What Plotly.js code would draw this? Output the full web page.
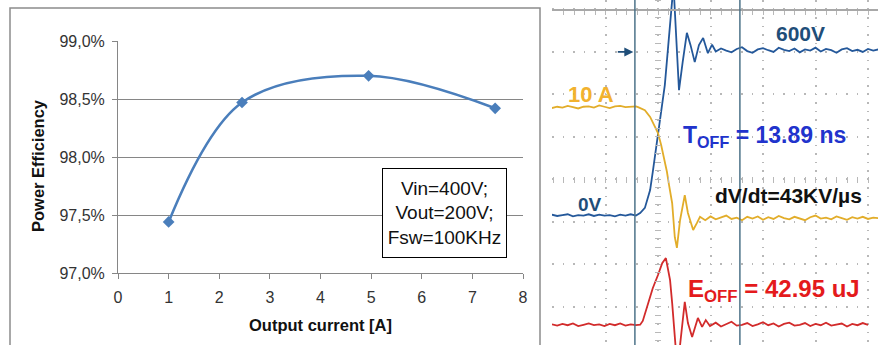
<!DOCTYPE html>
<html><head><meta charset="utf-8">
<script src="https://cdn.plot.ly/plotly-3.0.1.min.js"></script>
<style>html,body{margin:0;padding:0;background:#fff;}#chart{width:878px;height:345px;}</style>
</head><body><div id="chart"></div>
<script>
// ---- Left chart: efficiency vs output current ----
const currentA = [1, 2.45, 4.95, 7.45];
const efficiencyPct = [97.44, 98.47, 98.70, 98.42];
const xTicks = [0, 1, 2, 3, 4, 5, 6, 7, 8];
const yTicks = [97.0, 97.5, 98.0, 98.5, 99.0];
const yTickLabels = ['97,0%', '97,5%', '98,0%', '98,5%', '99,0%'];
const conditionsText = ['Vin=400V;', 'Vout=200V;', 'Fsw=100KHz'];
const xTitle = 'Output current [A]';
const yTitle = 'Power Efficiency';

// ---- Right panel: oscilloscope turn-off waveforms (units: graticule divisions) ----
const blueT = [-2.02,-1.92,-1.82,-1.72,-1.62,-1.52,-1.42,-1.32,-1.22,-1.12,-1.02,-0.92,-0.82,-0.72,-0.62,-0.52,-0.42,
  -0.34,-0.25,-0.15,-0.10,0,0.13,0.27,0.29,0.31,0.40,0.47,0.55,0.62,0.70,0.78,0.86,0.95,1.03,
  1.1,1.2,1.3,1.4,1.5,1.6,1.7,1.8,1.9,2.0,2.1,2.2,2.3,2.4,2.5,2.6,2.7,2.8,2.9,3.0,3.1,3.2,3.3,3.4,3.5,3.6,3.7,3.8,3.9,4.0,4.1,4.2];
const blueV = [-0.84,-0.87,-0.85,-0.83,-0.88,-0.85,-0.86,-0.83,-0.87,-0.84,-0.86,-0.85,-0.88,-0.84,-0.86,-0.83,-0.86,
  -0.80,-0.68,-0.26,0.16,1.08,2.21,4.21,4.70,4.21,2.09,2.75,3.44,3.15,2.75,3.15,3.32,2.96,3.16,
  3.00,3.07,3.02,2.98,3.06,3.10,3.01,2.97,3.05,3.08,3.03,2.99,3.09,3.04,3.01,3.07,2.98,3.05,3.02,3.09,3.00,3.06,3.03,2.97,3.05,3.08,3.01,3.04,2.99,3.06,3.02,3.05];

const yellowT = [-2.02,-1.92,-1.82,-1.72,-1.62,-1.52,-1.42,-1.32,-1.22,-1.12,-1.02,-0.92,-0.82,-0.72,-0.62,-0.52,-0.42,
  -0.38,-0.25,-0.15,-0.06,0,0.06,0.11,0.17,0.21,0.27,0.32,0.36,0.42,0.51,0.57,0.67,0.74,0.80,
  0.9,1.0,1.1,1.2,1.3,1.4,1.5,1.6,1.7,1.8,1.9,2.0,2.1,2.2,2.3,2.4,2.5,2.6,2.7,2.8,2.9,3.0,3.1,3.2,3.3,3.4,3.5,3.6,3.7,3.8,3.9,4.0,4.1,4.2];
const yellowV = [1.67,1.70,1.68,1.72,1.69,1.66,1.70,1.71,1.68,1.73,1.70,1.67,1.71,1.72,1.69,1.70,1.71,
  1.69,1.62,1.46,1.22,1.08,0.80,0.52,0.17,-0.14,-0.57,-1.37,-1.62,-0.97,-0.38,-0.80,-1.20,-1.04,-0.89,
  -0.97,-0.88,-0.95,-0.90,-0.86,-0.94,-0.91,-0.97,-0.89,-0.93,-0.88,-0.96,-0.90,-0.94,-0.87,-0.92,-0.95,-0.89,-0.93,-0.97,-0.90,-0.86,-0.93,-0.91,-0.95,-0.88,-0.92,-0.96,-0.90,-0.93,-0.89,-0.94,-0.91,-0.92];

const redT = [-2.02,-1.92,-1.82,-1.72,-1.62,-1.52,-1.42,-1.32,-1.22,-1.12,-1.02,-0.92,-0.82,-0.72,-0.62,-0.52,-0.42,
  -0.34,-0.29,-0.19,-0.10,0,0.08,0.15,0.23,0.27,0.31,0.34,0.38,0.42,0.51,0.57,0.65,0.71,0.76,0.84,0.91,0.99,
  1.1,1.2,1.3,1.4,1.5,1.6,1.7,1.8,1.9,2.0,2.1,2.2,2.3,2.4,2.5,2.6,2.7,2.8,2.9,3.0,3.1,3.2,3.3,3.4,3.5,3.6,3.7,3.8,3.9,4.0,4.1,4.2];
const redV = [-3.42,-3.45,-3.41,-3.44,-3.40,-3.46,-3.43,-3.40,-3.44,-3.42,-3.46,-3.41,-3.44,-3.40,-3.45,-3.42,-3.44,
  -3.43,-3.34,-2.96,-2.57,-2.26,-1.98,-1.86,-2.38,-2.92,-3.55,-4.02,-4.26,-3.91,-2.89,-3.39,-3.72,-3.48,-3.27,-3.48,-3.32,-3.46,
  -3.38,-3.47,-3.41,-3.36,-3.45,-3.43,-3.39,-3.46,-3.42,-3.37,-3.44,-3.40,-3.47,-3.41,-3.38,-3.45,-3.43,-3.39,-3.46,-3.41,-3.44,-3.38,-3.45,-3.42,-3.40,-3.47,-3.41,-3.44,-3.39,-3.43];

const cursorT = [-0.44, 1.56];
const refMarker = {t: -0.47, v: 2.99};
const scopeLabels = [
  {text: '<b>600V</b>', t: 2.72, v: 3.43, color: '#1f4e79', size: 21},
  {text: '<b>10 A</b>', t: -1.27, v: 2.0, color: '#f2b22e', size: 22},
  {text: '<b>T<sub>OFF</sub> = 13.89 ns</b>', t: 2.03, v: 1.0, color: '#2133cc', size: 23},
  {text: '<b>0V</b>', t: -1.30, v: -0.59, color: '#1f4e79', size: 19},
  {text: '<b>dV/dt=43KV/µs</b>', t: 2.48, v: -0.38, color: '#111111', size: 21},
  {text: '<b>E<sub>OFF</sub> = 42.95 uJ</b>', t: 2.21, v: -2.62, color: '#e41a1c', size: 24}
];

const W = 878, H = 345;
const px = x => x / W, py = y => (H - y) / H;

const scopeX = [(552 - 658) / 52.5, (878 - 658) / 52.5];
const scopeY = [(179 - 345) / 42.5, (179 - 0) / 42.5];
const gridCol = '#b8b8b8';
const leftFont = 'Liberation Sans, Arial, sans-serif';

const traces = [
  {x: currentA, y: efficiencyPct, xaxis: 'x', yaxis: 'y', type: 'scatter', mode: 'lines+markers',
   line: {shape: 'spline', smoothing: 1, color: '#4a7ebb', width: 2.6},
   marker: {symbol: 'diamond', size: 9, color: '#4a7ebb'}},
  {x: blueT, y: blueV, xaxis: 'x2', yaxis: 'y2', type: 'scatter', mode: 'lines', line: {color: '#24589a', width: 1.8}},
  {x: yellowT, y: yellowV, xaxis: 'x2', yaxis: 'y2', type: 'scatter', mode: 'lines', line: {color: '#e2ad2a', width: 1.8}},
  {x: redT, y: redV, xaxis: 'x2', yaxis: 'y2', type: 'scatter', mode: 'lines', line: {color: '#d22b2b', width: 1.8}},
  {x: [], y: [], xaxis: 'x3', yaxis: 'y2', type: 'scatter', mode: 'lines'},
  {x: [], y: [], xaxis: 'x4', yaxis: 'y2', type: 'scatter', mode: 'lines'},
  {x: [], y: [], xaxis: 'x2', yaxis: 'y3', type: 'scatter', mode: 'lines'}
];

const annotations = [
  {xref: 'paper', yref: 'paper', x: px(38), y: py(166), text: '<b>' + yTitle + '</b>', textangle: -90, showarrow: false,
   font: {size: 16.5, color: '#111', family: leftFont}, xanchor: 'center', yanchor: 'middle'},
  {xref: 'paper', yref: 'paper', x: px(320), y: py(325), text: '<b>' + xTitle + '</b>', showarrow: false,
   font: {size: 16.5, color: '#111', family: leftFont}, xanchor: 'center', yanchor: 'middle'},
  {xref: 'paper', yref: 'paper', x: px(444.5), y: py(213), text: conditionsText.join('<br>'), showarrow: false,
   font: {size: 19, color: '#111', family: leftFont}, bgcolor: '#ffffff', bordercolor: '#000000', borderwidth: 1, borderpad: 1,
   width: 121, height: 86, xanchor: 'center', yanchor: 'middle', align: 'center'},
  {xref: 'x2', yref: 'y2', x: refMarker.t, y: refMarker.v, ax: -17, ay: 0, text: '', showarrow: true,
   arrowhead: 2, arrowsize: 1, arrowwidth: 1.8, arrowcolor: '#1f4e79'}
];
scopeLabels.forEach(l => annotations.push({xref: 'x2', yref: 'y2', x: l.t, y: l.v, text: l.text, showarrow: false,
  font: {size: l.size, color: l.color, family: 'Liberation Sans, Arial, sans-serif'}, xanchor: 'center', yanchor: 'middle'}));

const shapes = [
  {type: 'rect', xref: 'paper', yref: 'paper', x0: px(10), x1: px(540), y0: -0.1, y1: py(8),
   line: {color: '#8c8c8c', width: 1.5}, fillcolor: 'rgba(0,0,0,0)', layer: 'below'}
];
cursorT.forEach(t => shapes.push({type: 'line', xref: 'x2', yref: 'paper', x0: t, x1: t, y0: 0, y1: 1,
  line: {color: '#4d7389', width: 1.5}}));

const layout = {
  width: W, height: H, margin: {l: 0, r: 0, t: 0, b: 0},
  paper_bgcolor: '#ffffff', plot_bgcolor: 'rgba(0,0,0,0)', showlegend: false,
  font: {family: leftFont, color: '#222'},
  xaxis: {domain: [px(118), px(523)], range: [0, 8], anchor: 'y', tickvals: xTicks, ticks: 'outside', ticklen: 5,
    tickcolor: '#868686', showline: true, linecolor: '#868686', linewidth: 1, showgrid: false, zeroline: false,
    ticklabelstandoff: 5, tickfont: {size: 16, color: '#333', family: leftFont}, fixedrange: true},
  yaxis: {domain: [py(273), py(41)], range: [97, 99], anchor: 'x', tickvals: yTicks, ticktext: yTickLabels,
    ticks: 'outside', ticklen: 5, tickcolor: '#868686', showline: true, linecolor: '#868686', linewidth: 1,
    ticklabelstandoff: 4, showgrid: true, gridcolor: '#868686', gridwidth: 1, zeroline: false,
    tickfont: {size: 16, color: '#333', family: leftFont}, fixedrange: true},
  xaxis2: {domain: [px(552), 1], range: scopeX, anchor: 'y2', dtick: 1, tick0: 0, showgrid: true, gridcolor: gridCol,
    gridwidth: 2, griddash: '1.5px,7px', showticklabels: false, ticks: '', zeroline: false, showline: false},
  yaxis2: {domain: [0, 1], range: scopeY, anchor: 'x2', dtick: 1, tick0: 0, showgrid: true, gridcolor: gridCol,
    gridwidth: 2, griddash: '1.5px,9px', showticklabels: false, ticks: '', zeroline: false, showline: false},
  xaxis3: {overlaying: 'x2', anchor: 'free', position: py(176), side: 'bottom', range: scopeX, dtick: 0.2, tick0: 0,
    ticks: 'outside', ticklen: 6, tickcolor: gridCol, showticklabels: false, showgrid: false, zeroline: false, showline: false},
  xaxis4: {overlaying: 'x2', anchor: 'free', position: py(9), side: 'top', range: scopeX, dtick: 0.2, tick0: 0,
    ticks: 'inside', ticklen: 4, tickcolor: gridCol, showticklabels: false, showgrid: false, zeroline: false,
    showline: true, linecolor: '#a8a8a8', linewidth: 1.5},
  yaxis3: {overlaying: 'y2', anchor: 'free', position: px(661), side: 'left', range: scopeY, dtick: 0.2, tick0: 0,
    ticks: 'outside', ticklen: 6, tickcolor: gridCol, showticklabels: false, showgrid: false, zeroline: false, showline: false},
  annotations: annotations,
  shapes: shapes
};

Plotly.newPlot('chart', traces, layout, {staticPlot: true, displayModeBar: false});
</script></body></html>
